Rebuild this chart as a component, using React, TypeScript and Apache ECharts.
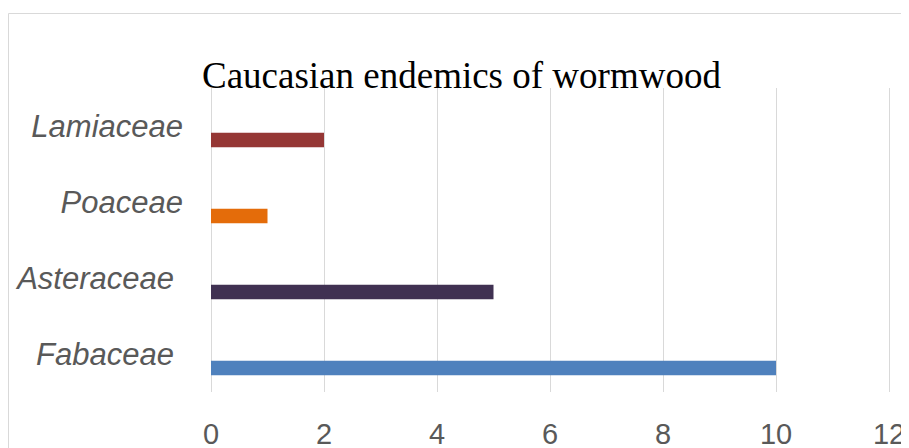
import React, { useEffect, useRef } from "react";
import * as echarts from "echarts";

const categories = ["Fabaceae", "Asteraceae", "Poaceae", "Lamiaceae"];
const values = [10, 5, 1, 2];
const barColors = ["#4F81BD", "#403152", "#E46C0A", "#953735"];
const xTicks = [0, 2, 4, 6, 8, 10, 12];
const titleText = "Caucasian endemics of wormwood";

export default function App() {
  const ref = useRef<HTMLDivElement>(null);
  useEffect(() => {
    document.documentElement.style.overflow = "hidden";
    document.body.style.overflow = "hidden";
    if (!ref.current) return;
    const chart = echarts.init(ref.current, undefined, { renderer: "svg" });
    chart.setOption({
      animation: false,
      backgroundColor: "#ffffff",
      title: {
        text: titleText,
        left: 189,
        top: 44,
        textStyle: {
          fontFamily: "'Liberation Serif', 'Times New Roman', serif",
          fontSize: 37,
          fontWeight: "normal",
          color: "#000000",
        },
      },
      graphic: [
        {
          type: "rect",
          shape: { x: 0.5, y: 5.5, width: 1200, height: 1200 },
          style: { fill: "none", stroke: "#d9d9d9", lineWidth: 1 },
          silent: true,
        },
      ],
      grid: { left: 203, right: 20, top: 80, bottom: 55, containLabel: false },
      xAxis: {
        type: "value",
        min: xTicks[0],
        max: xTicks[xTicks.length - 1],
        interval: 2,
        axisLine: { show: false },
        axisTick: { show: false },
        splitLine: { show: true, lineStyle: { color: "#d9d9d9", width: 1 } },
        axisLabel: {
          margin: 27,
          fontSize: 29,
          color: "#595959",
          fontFamily: "'Liberation Sans', Arial, sans-serif",
        },
      },
      yAxis: {
        type: "category",
        data: categories,
        axisLine: { show: false },
        axisTick: { show: false },
        splitLine: { show: false },
        axisLabel: {
          margin: 28,
          formatter: (v: string) =>
            v === "Lamiaceae" || v === "Poaceae" ? `{a|${v}}` : `{b|${v}}`,
          rich: {
            a: {
              fontSize: 31,
              fontStyle: "italic",
              color: "#595959",
              fontFamily: "'Liberation Sans', Arial, sans-serif",
            },
            b: {
              fontSize: 31,
              fontStyle: "italic",
              color: "#595959",
              fontFamily: "'Liberation Sans', Arial, sans-serif",
              padding: [0, 9, 0, 0],
            },
          },
        },
      },
      series: [
        {
          type: "bar",
          name: "empty",
          data: categories.map(() => "-"),
          barWidth: 14.5,
          barGap: "93%",
        },
        {
          type: "bar",
          name: "count",
          barWidth: 14.5,
          barGap: "93%",
          data: values.map((v, i) => ({ value: v, itemStyle: { color: barColors[i] } })),
        },
      ],
    });
    return () => chart.dispose();
  }, []);
  return <div ref={ref} style={{ width: 901, height: 440 }} />;
}
